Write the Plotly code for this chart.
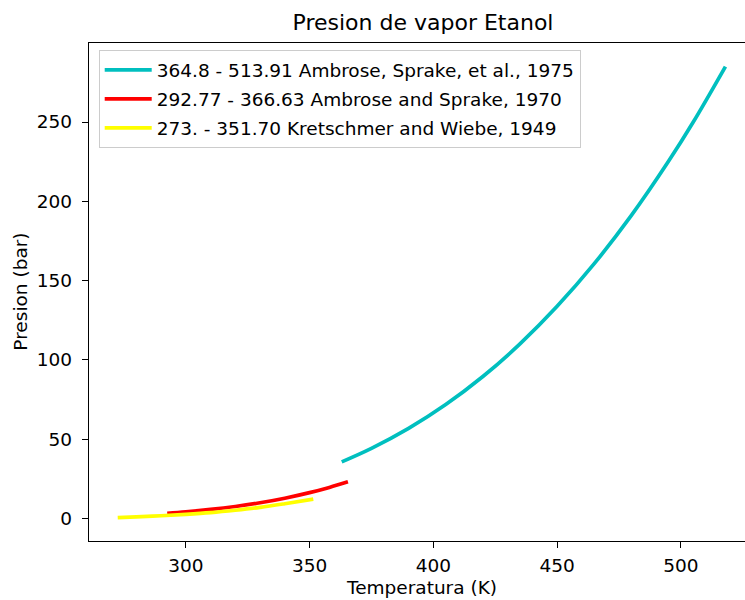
import plotly.graph_objects as go

# Data
T_ambrose_1975 = [363, 375, 390, 405, 420, 435, 450, 465, 480, 495, 505, 518]
P_ambrose_1975 = [35.75, 44.25, 56.85, 71.88, 89.57, 110.13, 133.8, 160.7, 191.1, 225.2, 250.0, 284.95]

T_ambrose_1970 = [292.5, 300, 310, 320, 330, 340, 350, 358, 365.5]
P_ambrose_1970 = [3.39, 4.28, 5.78, 7.65, 10.0, 12.88, 16.37, 19.67, 23.2]

T_kretschmer_1949 = [272.5, 280, 290, 300, 310, 320, 330, 340, 351.5]
P_kretschmer_1949 = [0.6, 1.1, 1.8, 2.7, 3.8, 5.3, 7.1, 9.4, 12.3]

series_labels = [
    "364.8 - 513.91 Ambrose, Sprake, et al., 1975",
    "292.77 - 366.63 Ambrose and Sprake, 1970",
    "273. - 351.70 Kretschmer and Wiebe, 1949",
]
series_colors = ["#00BFBF", "#FF0000", "#FFFF00"]

x_ticks = [300, 350, 400, 450, 500]
y_ticks = [0, 50, 100, 150, 200, 250]

title_text = "Presion de vapor Etanol"
x_title = "Temperatura (K)"
y_title = "Presion (bar)"

FONT = "DejaVu Sans"
FS = 18.5

fig = go.Figure()
series = [
    (T_ambrose_1975, P_ambrose_1975),
    (T_ambrose_1970, P_ambrose_1970),
    (T_kretschmer_1949, P_kretschmer_1949),
]
for i, (xs, ys) in enumerate(series):
    fig.add_trace(go.Scatter(
        x=xs, y=ys, mode="lines", name=series_labels[i],
        line=dict(color=series_colors[i], width=3.7, shape="spline"),
        legendgroup="g%d" % i,
    ))

fig.update_layout(
    width=745, height=600,
    margin=dict(l=89, r=0, t=43, b=59),
    paper_bgcolor="white", plot_bgcolor="white",
    font=dict(family=FONT, size=FS, color="black"),
    showlegend=True,
    legend=dict(
        x=0.0148, y=(540.7 - 50) / 498, xanchor="left", yanchor="top",
        bgcolor="white", bordercolor="#cccccc", borderwidth=1,
        font=dict(family=FONT, size=FS, color="black"),
        tracegroupgap=2, itemwidth=47,
    ),
    title=dict(text=title_text, x=423 / 745, xanchor="center", xref="container",
               y=1 - 22 / 600, yanchor="middle", yref="container",
               font=dict(family=FONT, size=22, color="black")),
)

fig.update_xaxes(
    range=[260.9, 525.9], tickmode="array", tickvals=x_ticks,
    showgrid=False, zeroline=False, showline=True, linecolor="black",
    linewidth=1.3, mirror=True, ticks="outside", ticklen=6, tickwidth=1.2,
    tickcolor="black", tickfont=dict(family=FONT, size=FS, color="black"),
    ticklabelstandoff=2,
)
fig.update_yaxes(
    range=[-14.1, 299.8], tickmode="array", tickvals=y_ticks,
    showgrid=False, zeroline=False, showline=True, linecolor="black",
    linewidth=1.3, mirror=False, ticks="outside", ticklen=6, tickwidth=1.2,
    tickcolor="black", tickfont=dict(family=FONT, size=FS, color="black"),
    ticklabelstandoff=6,
)

fig.add_annotation(text=x_title, xref="paper", yref="paper", x=0.507, y=-0.093,
                   xanchor="center", yanchor="middle", showarrow=False,
                   font=dict(family=FONT, size=FS, color="black"))
fig.add_annotation(text=y_title, xref="paper", yref="paper", x=-0.1057, y=0.5,
                   xanchor="center", yanchor="middle", showarrow=False, textangle=-90,
                   font=dict(family=FONT, size=FS, color="black"))

fig.write_html("out.html")
